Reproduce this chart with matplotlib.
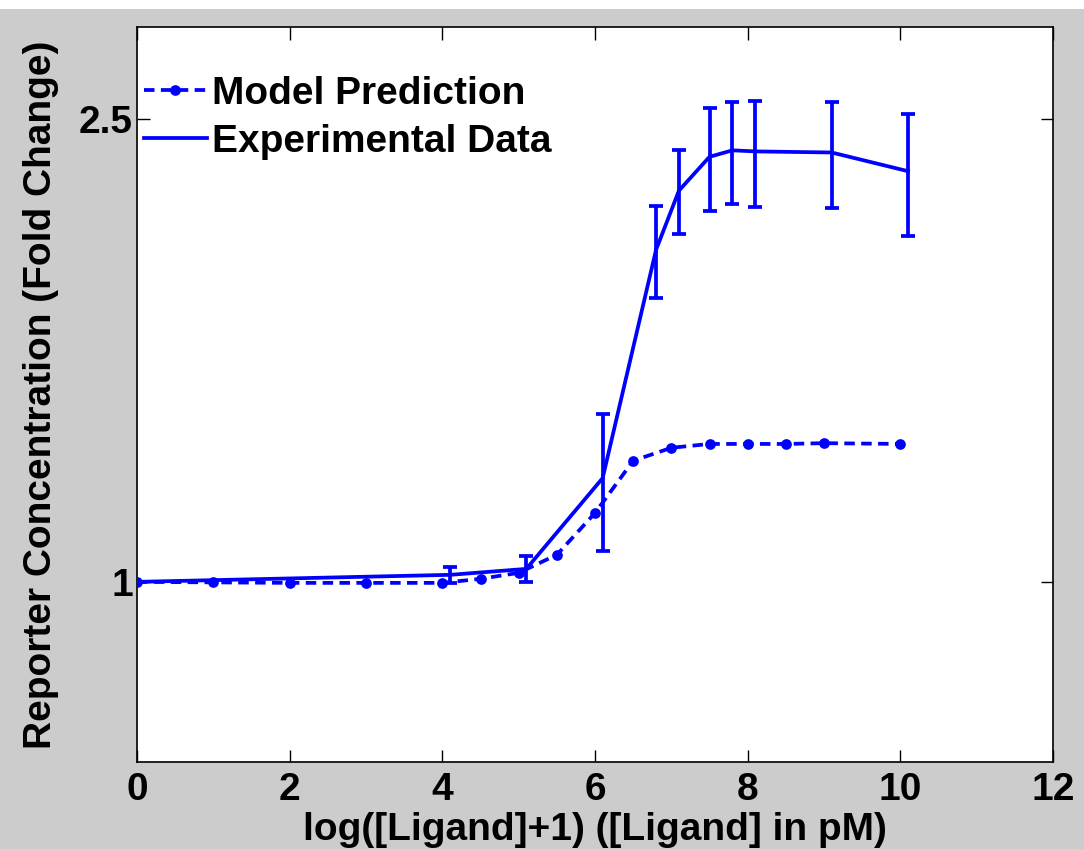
import matplotlib
matplotlib.use("Agg")
import matplotlib.pyplot as plt
from matplotlib.patches import Rectangle
from matplotlib.ticker import FixedLocator, FixedFormatter, NullLocator

# Model prediction (dashed, dotted markers)
model_x = [0, 1, 2, 3, 4, 4.5, 5, 5.5, 6, 6.5, 7, 7.5, 8, 8.5, 9, 10]
model_y = [1.0, 0.999, 0.998, 0.998, 0.998, 1.006, 1.018, 1.055, 1.146,
           1.271, 1.304, 1.314, 1.314, 1.314, 1.316, 1.314]

# Experimental data (solid, with error bars)
exp_x = [0, 4.1, 5.1, 6.1, 6.8, 7.1, 7.5, 7.8, 8.1, 9.1, 10.1]
exp_y = [1.0, 1.014, 1.026, 1.228, 1.93, 2.17, 2.32, 2.35, 2.345, 2.34, 2.255]
exp_err = [0.0, 0.016, 0.027, 0.165, 0.175, 0.18, 0.236, 0.237, 0.244, 0.245, 0.27]

x_ticks = [0, 2, 4, 6, 8, 10, 12]
y_ticks = [1, 2.5]
y_tick_labels = ["1", "2.5"]

plt.rcParams["font.family"] = ["Liberation Sans", "DejaVu Sans"]
plt.rcParams["font.weight"] = "bold"

GRAY = "#cccccc"
BLUE = "#0000ff"
W, H, DPI = 1084, 849, 100
FS = 28

fig = plt.figure(figsize=(W / DPI, H / DPI), dpi=DPI, facecolor=GRAY)
fig.patches.append(Rectangle((0, 1 - 9 / H), 1, 9 / H, transform=fig.transFigure,
                             facecolor="white", edgecolor="none", zorder=0))

ax = fig.add_axes([137 / W, 1 - 762 / H, (1053 - 137) / W, (762 - 27) / H])
ax.set_facecolor("white")

lw = 2.7
ax.plot(model_x, model_y, color=BLUE, lw=lw, dashes=(2.8, 1.7), marker="o",
        ms=6.5, mfc=BLUE, mec=BLUE, mew=1.2, label="Model Prediction", zorder=3)
ax.errorbar(exp_x, exp_y, yerr=exp_err, color=BLUE, lw=lw, elinewidth=lw,
            capsize=5.2, capthick=lw, label="Experimental Data", zorder=3)

ax.set_yscale("log")
ax.set_xlim(0, 12)
ax.set_ylim(0.7, 3.0)
ax.xaxis.set_major_locator(FixedLocator(x_ticks))
ax.yaxis.set_major_locator(FixedLocator(y_ticks))
ax.yaxis.set_major_formatter(FixedFormatter(y_tick_labels))
ax.yaxis.set_minor_locator(NullLocator())

ax.tick_params(axis="both", which="major", direction="in", length=9, width=1,
               top=True, right=True, labelsize=FS)
ax.tick_params(axis="x", pad=7)
ax.tick_params(axis="y", pad=3)
for lab in ax.get_xticklabels() + ax.get_yticklabels():
    lab.set_fontweight("bold")
for s in ax.spines.values():
    s.set_linewidth(1.2)
    s.set_color("black")

ax.set_xlabel("log([Ligand]+1) ([Ligand] in pM)", fontsize=FS, fontweight="bold",
              labelpad=3)
ax.set_ylabel("Reporter Concentration (Fold Change)", fontsize=FS,
              fontweight="bold", labelpad=14)

handles, labels = ax.get_legend_handles_labels()
h_model, h_exp = handles[0], handles[1][0]
leg = ax.legend([h_model, h_exp], labels, loc="upper left", frameon=False,
                prop={"size": FS, "weight": "bold"}, handlelength=1.62,
                handletextpad=0.13, labelspacing=0.3,
                bbox_to_anchor=(-0.018, 0.965), borderaxespad=0.2)

fig.savefig("out.png", dpi=DPI, facecolor=fig.get_facecolor())
